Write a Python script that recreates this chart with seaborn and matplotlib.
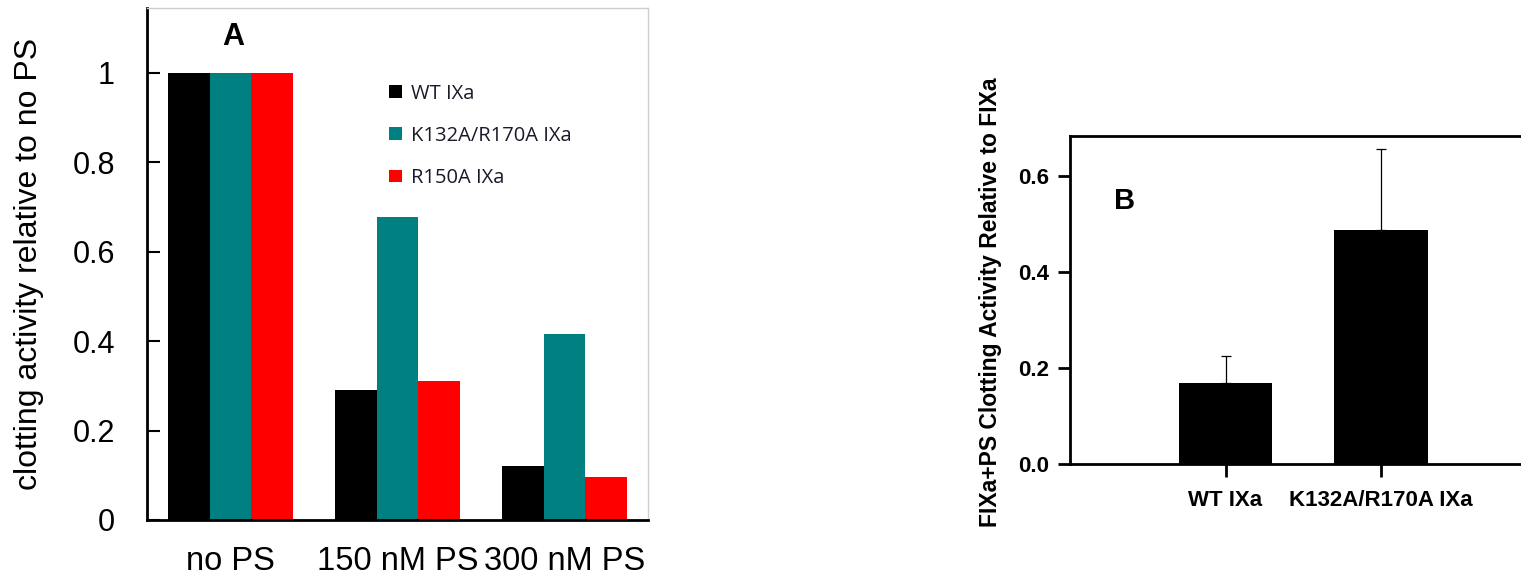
import pandas as pd
import matplotlib
matplotlib.use("Agg")
import matplotlib.pyplot as plt
import seaborn as sns

# panel A data
conditions = ["no PS", "150 nM PS", "300 nM PS"]
variants = ["WT IXa", "K132A/R170A IXa", "R150A IXa"]
wt_vals = [1.0, 0.29, 0.12]
dm_vals = [1.0, 0.678, 0.415]
r150_vals = [1.0, 0.31, 0.097]
colors_a = ["#000000", "#008080", "#ff0000"]

# panel B data
variants_b = ["WT IXa", "K132A/R170A IXa"]
means_b = [0.168, 0.487]
err_b = [0.056, 0.168]

sns.set_style("white")
plt.rcParams['font.family'] = ['Liberation Sans', 'DejaVu Sans']
plt.rcParams['text.color'] = 'black'
plt.rcParams['axes.labelcolor'] = 'black'
plt.rcParams['xtick.color'] = 'black'
plt.rcParams['ytick.color'] = 'black'

rows = []
for v, vals in zip(variants, [wt_vals, dm_vals, r150_vals]):
    for c, y in zip(conditions, vals):
        rows.append({'condition': c, 'variant': v, 'value': y})
df_a = pd.DataFrame(rows)

fig = plt.figure(figsize=(15.21, 5.79), dpi=100)
ax_a = fig.add_axes([0.0966, 0.1019, 0.3295, 0.8843])
ax_b = fig.add_axes([0.7035, 0.1986, 0.2965, 0.5665])

# ---- panel A
sns.barplot(data=df_a, x='condition', y='value', hue='variant', hue_order=variants,
            palette=colors_a, width=0.75, saturation=1, legend=False,
            linewidth=0, ax=ax_a)
ax_a.set_xlim(-0.5, 2.5)
ax_a.set_ylim(0, 1.145)
ax_a.set_yticks([0, 0.2, 0.4, 0.6, 0.8, 1.0])
ax_a.set_yticklabels(["0", "0.2", "0.4", "0.6", "0.8", "1"])
ax_a.set_xticks([0, 1, 2])
ax_a.set_xticks([0.5, 1.5], minor=True)
ax_a.tick_params(axis='x', which='major', length=0, labelsize=23.5, pad=19)
ax_a.tick_params(axis='x', which='minor', direction='out', length=8, width=1.5, color='black')
ax_a.tick_params(axis='y', direction='in', length=9, width=1.5, labelsize=22, pad=23, left=True)
ax_a.set_xlabel("")
ax_a.set_ylabel("clotting activity relative to no PS", fontsize=23)
ax_a.yaxis.set_label_coords(-0.205, 0.5)
for s in ['left', 'bottom']:
    ax_a.spines[s].set_color('black')
    ax_a.spines[s].set_linewidth(2)
for s in ['top', 'right']:
    ax_a.spines[s].set_color('#cfcfcf')
    ax_a.spines[s].set_linewidth(1)
ax_a.text(0.172, 0.943, "A", transform=ax_a.transAxes, fontsize=22, fontweight='bold',
          ha='center', va='center')
leg = ax_a.legend(ax_a.containers, variants, loc='upper left', bbox_to_anchor=(0.484, 0.852),
                  frameon=False, borderpad=0, borderaxespad=0, handlelength=0.6,
                  handleheight=0.6, handletextpad=0.45, labelspacing=1.1,
                  prop={'family': 'Open Sans', 'size': 14.5})
for t in leg.get_texts():
    t.set_color('#1a1a2a')

# ---- panel B
sns.barplot(x=variants_b, y=means_b, color='black', width=0.6, saturation=1,
            linewidth=0, ax=ax_b)
centers = [p.get_x() + p.get_width() / 2 for p in ax_b.patches]
ax_b.errorbar(centers, means_b, yerr=[[0] * len(err_b), err_b], fmt='none',
              ecolor='black', elinewidth=0.9, capsize=3.5, capthick=0.9)
ax_b.set_xlim(-1, 1.9)
ax_b.set_ylim(0, 0.683)
ax_b.set_yticks([0.0, 0.2, 0.4, 0.6])
ax_b.set_yticklabels(["0.0", "0.2", "0.4", "0.6"])
ax_b.tick_params(axis='both', direction='out', length=9, width=2, labelsize=16,
                 left=True, bottom=True)
ax_b.tick_params(axis='y', pad=6)
ax_b.tick_params(axis='x', pad=10)
for lbl in ax_b.get_xticklabels() + ax_b.get_yticklabels():
    lbl.set_fontweight('bold')
ax_b.set_ylabel("FIXa+PS Clotting Activity Relative to FIXa", fontsize=16.5, fontweight='bold')
ax_b.yaxis.set_label_coords(-0.151, 0.494)
for s in ['left', 'bottom', 'top']:
    ax_b.spines[s].set_color('black')
    ax_b.spines[s].set_linewidth(2)
ax_b.spines['right'].set_visible(False)
ax_b.text(0.122, 0.802, "B", transform=ax_b.transAxes, fontsize=21, fontweight='bold',
          ha='center', va='center')

fig.savefig("out.png", dpi=100)
